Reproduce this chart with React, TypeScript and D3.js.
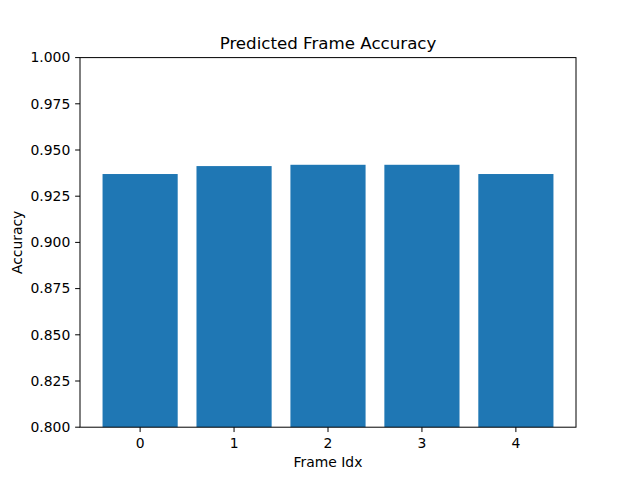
import React from "react";
import * as d3 from "d3";

const categories = [0, 1, 2, 3, 4];
const accuracy = [0.937, 0.9413, 0.942, 0.942, 0.937];
const yTicks = [0.8, 0.825, 0.85, 0.875, 0.9, 0.925, 0.95, 0.975, 1.0];

export default function App() {
  const W = 640, H = 480;
  const left = 80, right = 576, top = 57.6, bottom = 427.2;
  const x = d3.scaleLinear().domain([-0.64, 4.64]).range([left, right]);
  const y = d3.scaleLinear().domain([0.8, 1.0]).range([bottom, top]);
  const bw = 0.8;
  const font = "DejaVu Sans, sans-serif";
  const fs = 13.9;
  return (
    <svg width={W} height={H} style={{ position: "absolute", left: 0, top: 0 }} fontFamily={font}>
      <rect x={0} y={0} width={W} height={H} fill="white" />
      {categories.map((c, i) => (
        <rect
          key={c}
          x={x(c - bw / 2)}
          y={y(accuracy[i])}
          width={x(c + bw / 2) - x(c - bw / 2)}
          height={bottom - y(accuracy[i])}
          fill="#1f77b4"
        />
      ))}
      <rect x={left} y={top} width={right - left} height={bottom - top} fill="none" stroke="black" strokeWidth={1} />
      {categories.map((c) => (
        <g key={c}>
          <line x1={x(c)} x2={x(c)} y1={bottom} y2={bottom + 4.86} stroke="black" strokeWidth={1} />
          <text x={x(c)} y={bottom + 4.86 + 4.86 + 11} textAnchor="middle" fontSize={fs}>{c}</text>
        </g>
      ))}
      {yTicks.map((t) => (
        <g key={t}>
          <line x1={left - 4.86} x2={left} y1={y(t)} y2={y(t)} stroke="black" strokeWidth={1} />
          <text x={left - 4.86 - 4.86} y={y(t)} dy="0.35em" textAnchor="end" fontSize={fs}>{t.toFixed(3)}</text>
        </g>
      ))}
      <text x={(left + right) / 2} y={467} textAnchor="middle" fontSize={fs}>Frame Idx</text>
      <text transform={`translate(22, ${(top + bottom) / 2}) rotate(-90)`} textAnchor="middle" fontSize={fs}>Accuracy</text>
      <text x={(left + right) / 2} y={top - 8.33} textAnchor="middle" fontSize={16.67}>Predicted Frame Accuracy</text>
    </svg>
  );
}
